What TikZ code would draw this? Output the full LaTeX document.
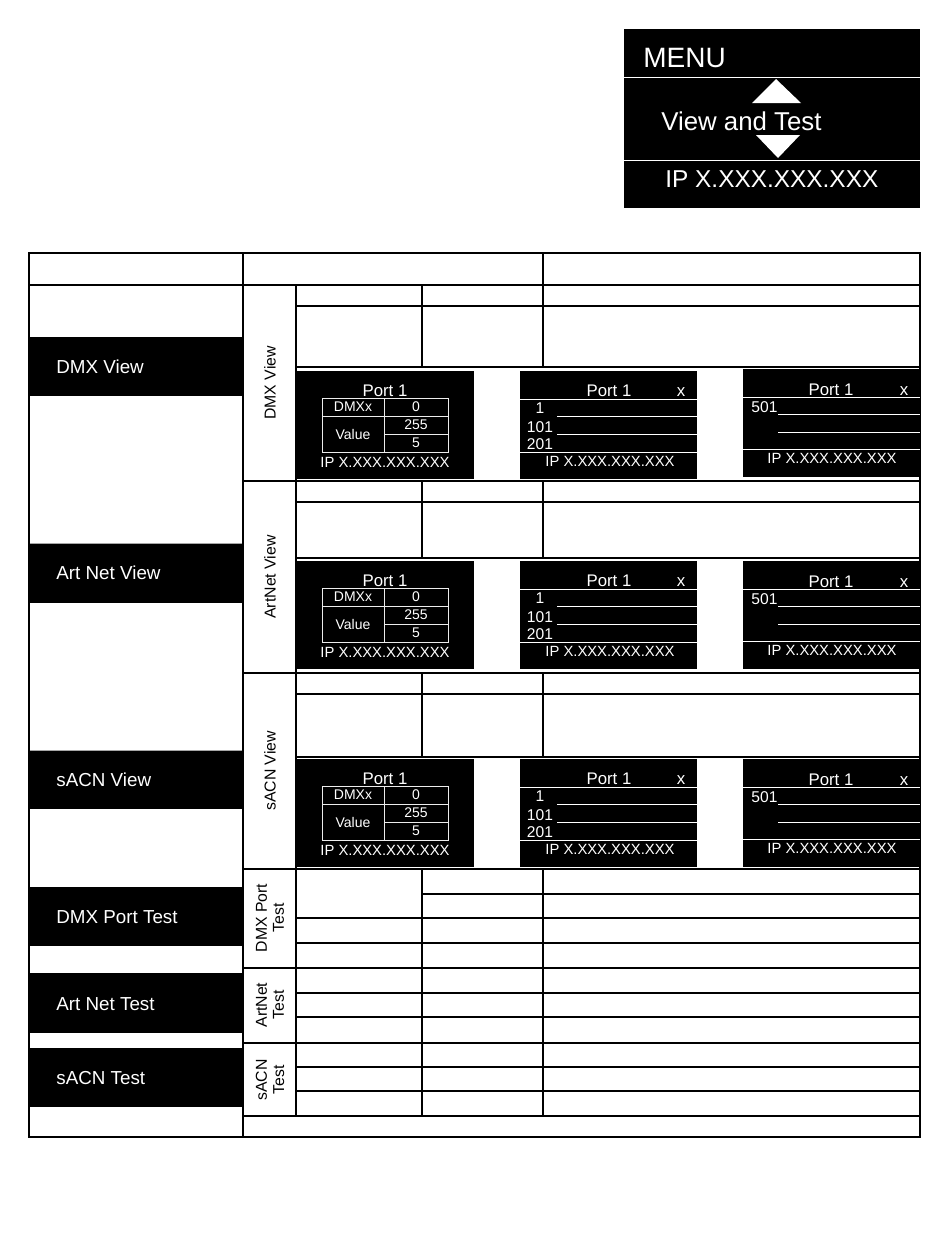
\documentclass[tikz,border=0pt]{standalone}
\usepackage{fontspec}
\setmainfont{Liberation Sans}
\usepackage{tikz}

\begin{document}
\begin{tikzpicture}[x=0.5pt, y=-0.5pt,
    tableline/.style={black, line width=0.7pt},
    screenline/.style={white, line width=0.5pt},
    cellline/.style={white!85!gray, line width=0.4pt},
    blockname/.style={text=white, anchor=base west, inner sep=0pt, font=\fontsize{9.4}{11}\selectfont},
    sidetag/.style={rotate=90, align=center, font=\fontsize{7.9}{8.6}\selectfont},
    screentext/.style={text=white, anchor=base, inner sep=0pt, font=\fontsize{8.4}{10}\selectfont},
    iptext/.style={text=white, anchor=base, inner sep=0pt, font=\fontsize{7.4}{9}\selectfont},
    chantext/.style={text=white, anchor=base, inner sep=0pt, font=\fontsize{7.8}{9}\selectfont},
    celltext/.style={text=white, inner sep=0pt, font=\fontsize{7}{8}\selectfont}]
 \useasboundingbox (0,0) rectangle (950,1248);

 % menu screen
 \fill [black] (624,29) rectangle (920,208);
 \draw [screenline] (624,77) -- (920,77);
 \draw [screenline] (624,160) -- (920,160);
 \node [blockname, font=\fontsize{14}{16}\selectfont] (menu) at (643,67) {MENU};
 \fill [white] (752,103) -- (801,103) -- (776,79) -- cycle;
 \fill [white] (756,135) -- (800,135) -- (778,158) -- cycle;
 \node [blockname, font=\fontsize{12.9}{15}\selectfont] (viewtest) at (661,130) {View and Test};
 \node [blockname, font=\fontsize{12.2}{14}\selectfont] (menuip) at (665,187) {IP X.XXX.XXX.XXX};

 % left column
 \fill [black] (29,337) rectangle (243,396);
 \node [blockname] (dmxview) at (56,373) {DMX View};
 \fill [black] (29,543) rectangle (243,603);
 \draw [gray!70] (29,543) -- (243,543);
 \node [blockname] (artview) at (56,579) {Art Net View};
 \fill [black] (29,750) rectangle (243,809);
 \draw [gray!70] (29,750) -- (243,750);
 \node [blockname] (sacnview) at (56,786) {sACN View};
 \fill [black] (29,887) rectangle (243,946);
 \node [blockname] (dmxtest) at (56,923) {DMX Port Test};
 \fill [black] (29,973) rectangle (243,1033);
 \node [blockname] (arttest) at (56,1010) {Art Net Test};
 \fill [black] (29,1048) rectangle (243,1107);
 \node [blockname] (sacntest) at (56,1084) {sACN Test};

 % table frame
 \draw [tableline] (29,253) rectangle (920,1137);
 \draw [tableline] (29,285) -- (920,285);
 \draw [tableline] (243,253) -- (243,1137);
 \draw [tableline] (543,253) -- (543,285);
 \draw [tableline] (296,285) -- (296,1116);
 \draw [tableline] (243,481) -- (920,481);
 \draw [tableline] (243,673) -- (920,673);
 \draw [tableline] (243,869) -- (920,869);
 \draw [tableline] (243,968) -- (920,968);
 \draw [tableline] (243,1043) -- (920,1043);
 \draw [tableline] (243,1116) -- (920,1116);

 \node [sidetag] (dmxtag) at (270,383) {DMX View};
 \node [sidetag] (arttag) at (270,577) {ArtNet View};
 \node [sidetag] (sacntag) at (270,771) {sACN View};
 \node [sidetag] (dmxporttag) at (270,918) {DMX Port\\Test};
 \node [sidetag] (arttesttag) at (270,1005) {ArtNet\\Test};
 \node [sidetag] (sacntesttag) at (270,1080) {sACN\\Test};

 % test rows
 \draw [tableline] (422,869) -- (422,1116);
 \draw [tableline] (543,869) -- (543,1116);
 \draw [tableline] (422,894) -- (920,894);
 \draw [tableline] (296,918) -- (920,918);
 \draw [tableline] (296,943) -- (920,943);
 \draw [tableline] (296,993) -- (920,993);
 \draw [tableline] (296,1017) -- (920,1017);
 \draw [tableline] (296,1067) -- (920,1067);
 \draw [tableline] (296,1091) -- (920,1091);

 % view rows and screens
 \foreach \T/\L/\P/\o/\s in {285/367/371/-2/dmx, 481/558/561/0/art, 673/757/759/0/sacn} {
   \draw [tableline] (296,{\T+21}) -- (920,{\T+21});
   \draw [tableline] (296,\L) -- (920,\L);
   \draw [tableline] (422,\T) -- (422,\L);
   \draw [tableline] (543,\T) -- (543,\L);
   % screen 1
   \fill [black] (296,\P) rectangle (474,{\P+108});
   \node [screentext] (portA\s) at (385,{\P+25}) {Port 1};
   \draw [cellline] (322,{\P+27}) rectangle (384,{\P+45}) node[pos=.5, celltext] (dmxx\s) {DMXx};
   \draw [cellline] (384,{\P+27}) rectangle (448,{\P+45}) node[pos=.5, celltext] (zero\s) {0};
   \draw [cellline] (322,{\P+45}) rectangle (384,{\P+81}) node[pos=.5, celltext] (value\s) {Value};
   \draw [cellline] (384,{\P+45}) rectangle (448,{\P+63}) node[pos=.5, celltext] (full\s) {255};
   \draw [cellline] (384,{\P+63}) rectangle (448,{\P+81}) node[pos=.5, celltext] (five\s) {5};
   \node [iptext] (ipA\s) at (385,{\P+96}) {IP X.XXX.XXX.XXX};
   % screen 2
   \fill [black] (520,\P) rectangle (697,{\P+108});
   \node [screentext] (portB\s) at (609,{\P+25}) {Port 1};
   \node [screentext] (closeB\s) at (681,{\P+25}) {x};
   \draw [screenline] (520,{\P+28}) -- (697,{\P+28});
   \node [chantext] (oneB\s) at (540,{\P+42}) {1};
   \node [chantext] (hundredB\s) at (540,{\P+61}) {101};
   \node [chantext] (twohundredB\s) at (540,{\P+78}) {201};
   \draw [screenline] (557,{\P+45}) -- (697,{\P+45});
   \draw [screenline] (557,{\P+63}) -- (697,{\P+63});
   \draw [screenline] (520,{\P+81}) -- (697,{\P+81});
   \node [iptext] (ipB\s) at (610,{\P+95}) {IP X.XXX.XXX.XXX};
   % screen 3
   \fill [black] (743,{\P+\o}) rectangle (920,{\P+\o+108});
   \node [screentext] (portC\s) at (831,{\P+\o+26}) {Port 1};
   \node [screentext] (closeC\s) at (904,{\P+\o+26}) {x};
   \draw [screenline] (743,{\P+\o+28}) -- (920,{\P+\o+28});
   \node [chantext, anchor=base west] (fivehundredC\s) at (751,{\P+\o+43}) {501};
   \draw [screenline] (778,{\P+\o+45}) -- (920,{\P+\o+45});
   \draw [screenline] (778,{\P+\o+63}) -- (920,{\P+\o+63});
   \draw [screenline] (743,{\P+\o+80}) -- (920,{\P+\o+80});
   \node [iptext] (ipC\s) at (832,{\P+\o+94}) {IP X.XXX.XXX.XXX};
 }
\end{tikzpicture}
\end{document}
